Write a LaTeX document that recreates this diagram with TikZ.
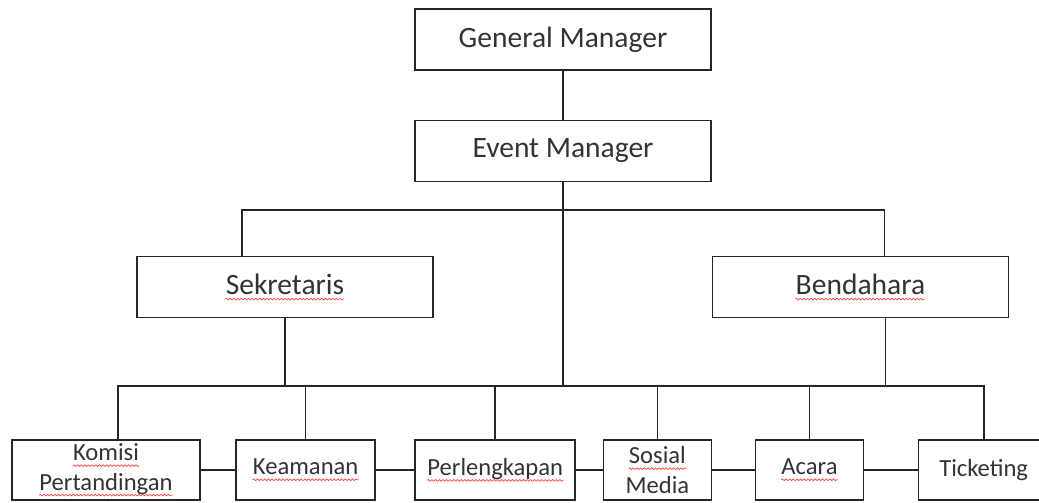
\documentclass[tikz,border=0pt]{standalone}
\usepackage{fontspec}
\setmainfont{Carlito}
\usetikzlibrary{positioning, decorations.pathmorphing}
\newcommand{\squig}[1]{\tikz[baseline=(w.base), x=1cm, y=1cm]{%
    \node[draw=none, inner sep=0pt, minimum width=0pt, minimum height=0pt, text=black!80] (w) {#1};
    \draw[red!75, line width=0.5pt, decorate, decoration={snake, amplitude=0.6pt, segment length=2.6pt}]
        ([yshift=-3.5pt]w.base west) -- ([yshift=-3.5pt]w.base east);}}

\begin{document}
\begin{tikzpicture}[x=0.025cm, y=-0.025cm,
        box/.style={draw=black!85, line width=1.2pt, minimum height=1.525cm, align=center,
            inner sep=2pt, text=black!80, font=\fontsize{21}{25}\selectfont},
        sbox/.style={box, minimum height=1.5cm, font=\fontsize{17.5}{21}\selectfont},
        link/.style={draw=black!85, line width=1.2pt}]
        \useasboundingbox (0,0) rectangle (1039,502);
        \node[box, minimum width=7.4cm] (gm) at (563,39.5) {General Manager};
        \node[box, minimum width=7.4cm, below=1.22cm of gm] (em) {Event Manager};
        \node[box, minimum width=7.4cm] (sek) at (285,287) {\squig{Sekretaris}};
        \node[box, minimum width=7.4cm, right=6.94cm of sek] (ben) {\squig{Bendahara}};
        \node[sbox, minimum width=4.7cm] (kom) at (106,470) {\squig{Komisi}\\\squig{Pertandingan}};
        \node[sbox, minimum width=3.475cm, right=0.86cm of kom] (kea) {\squig{Keamanan}};
        \node[sbox, minimum width=4cm, right=0.96cm of kea] (perl) {\squig{Perlengkapan}};
        \node[sbox, minimum width=2.7cm, right=0.66cm of perl] (sos) {\squig{Sosial}\\Media};
        \node[sbox, minimum width=2.7cm, right=1.06cm of sos] (aca) {\squig{Acara}};
        \node[sbox, minimum width=3.25cm, right=1.335cm of aca] (tic) {Ticketing};
        \coordinate (tb) at (0,210);
        \coordinate (bb) at (0,386);
        \coordinate (sekup) at ([xshift=-1.075cm]sek.north);
        \coordinate (benup) at ([xshift=0.6cm]ben.north);
        \coordinate (bendn) at ([xshift=0.625cm]ben.south);
        \coordinate (komup) at ([xshift=0.3cm]kom.north);
        \draw[link] (gm) -- (em);
        \draw[link] (em.south) -- (em.south |- bb);
        \draw[link] (sekup) -- (sekup |- tb) -- (benup |- tb) -- (benup);
        \draw[link] (sek.south) -- (sek.south |- bb);
        \draw[link] (bendn) -- (bendn |- bb);
        \draw[link] (komup) -- (komup |- bb) -- (tic.north |- bb) -- (tic.north);
        \foreach \n in {kea, perl, sos, aca}
            \draw[link] (\n.north) -- (\n.north |- bb);
        \draw[link] (kom) -- (kea);
        \draw[link] (kea) -- (perl);
        \draw[link] (perl) -- (sos);
        \draw[link] (sos) -- (aca);
        \draw[link] (aca) -- (tic);
\end{tikzpicture}
\end{document}
